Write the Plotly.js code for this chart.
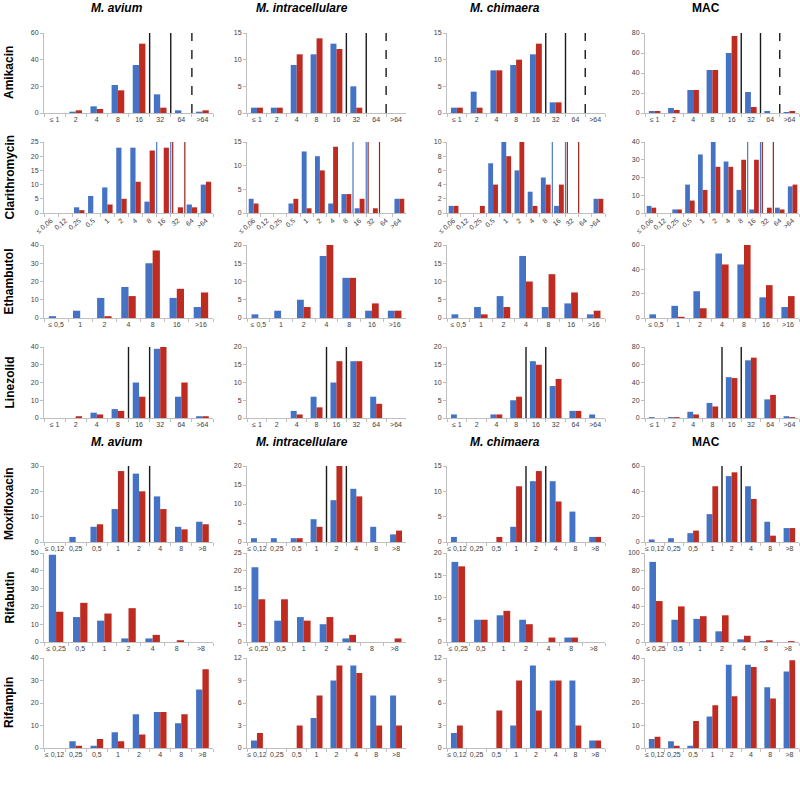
<!DOCTYPE html>
<html><head><meta charset="utf-8">
<script src="https://cdn.plot.ly/plotly-3.0.1.min.js"></script>
<style>html,body{margin:0;padding:0;background:#fff}#chart{width:800px;height:800px}</style>
</head><body><div id="chart"></div>
<script>
// ---------- DATA ----------
const species = ["M. avium", "M. intracellulare", "M. chimaera", "MAC"];
const drugs = ["Amikacin", "Clarithromycin", "Ethambutol", "Linezolid", "Moxifloxacin", "Rifabutin", "Rifampin"];

const amikacinCats = ["≤ 1", "2", "4", "8", "16", "32", "64", ">64"];
const clarithromycinCats = ["≤ 0,06", "0,12", "0,25", "0,5", "1", "2", "4", "8", "16", "32", "64", ">64"];
const ethambutolCats = ["≤ 0,5", "1", "2", "4", "8", "16", ">16"];
const linezolidCats = ["≤ 1", "2", "4", "8", "16", "32", "64", ">64"];
const moxifloxacinCats = ["≤ 0,12", "0,25", "0,5", "1", "2", "4", "8", ">8"];
const rifabutinCats = ["≤ 0,25", "0,5", "1", "2", "4", "8", ">8"];
const rifampinCats = ["≤ 0,12", "0,25", "0,5", "1", "2", "4", "8", ">8"];

// blue series / red series, one array per species (avium, intracellulare, chimaera, MAC)
const amikacinBlue = [[0,1,5,21,36,14,2,1],[1,1,9,11,13,5,0,0],[1,4,8,9,11,2,0,0],[2,5,23,43,60,21,2,1]];
const amikacinRed  = [[0,2,3,17,52,4,0,2],[1,1,11,14,12,1,0,0],[1,1,8,10,13,2,0,0],[2,3,23,43,77,6,0,2]];

const clarithromycinBlue = [[0,0,2,6,9,23,23,4,0,0,3,10],[3,0,0,2,13,12,2,4,1,0,0,3],[1,0,0,7,10,6,3,5,1,0,0,2],[4,0,2,16,33,40,29,13,2,0,3,15]];
const clarithromycinRed  = [[0,0,1,0,3,5,11,22,23,2,2,11],[2,0,0,3,1,9,14,4,3,1,0,3],[1,0,1,4,8,10,1,4,4,0,0,2],[3,0,2,7,13,26,26,30,30,3,2,16]];

const ethambutolBlue = [[1,4,11,17,30,11,6],[1,2,5,17,11,2,2],[1,3,6,17,3,4,1],[3,10,22,53,44,17,9]];
const ethambutolRed  = [[0,0,1,12,37,16,14],[0,0,3,20,11,4,2],[0,1,3,10,12,7,2],[0,1,8,44,60,27,18]];

const linezolidBlue = [[0,0,3,5,20,39,12,1],[0,0,2,6,10,16,6,0],[1,0,1,5,16,9,2,1],[1,1,7,17,46,65,21,2]];
const linezolidRed  = [[0,1,2,4,12,40,20,1],[0,0,1,3,16,16,4,0],[0,0,1,6,15,11,2,0],[0,1,4,13,45,68,26,1]];

const moxifloxacinBlue = [[0,2,6,13,27,18,6,8],[1,1,1,6,11,14,4,2],[1,0,0,3,12,12,6,1],[2,3,7,22,52,44,16,11]];
const moxifloxacinRed  = [[0,0,7,28,20,13,5,7],[0,0,1,4,20,12,0,3],[0,0,1,11,14,8,0,1],[0,0,9,44,55,34,5,11]];

const rifabutinBlue = [[49,14,12,2,2,0,0],[21,6,7,5,1,0,0],[18,5,6,5,0,1,0],[90,25,26,12,3,1,0]];
const rifabutinRed  = [[17,22,16,19,4,1,0],[12,12,6,7,2,0,1],[17,5,7,4,1,1,0],[46,40,29,30,7,2,1]];

const rifampinBlue = [[0,3,1,7,15,16,11,26],[1,0,0,4,9,11,7,7],[2,0,0,3,11,9,9,1],[4,3,1,14,37,37,27,34]];
const rifampinRed  = [[0,1,4,3,6,16,15,35],[2,0,3,7,11,10,3,3],[3,0,5,9,5,9,3,1],[5,1,12,19,23,36,22,39]];

// y-axis maxima and tick steps per species
const amikacinYMax = [60,15,15,80],        amikacinDtick = [20,5,5,20];
const clarithromycinYMax = [25,15,10,40],  clarithromycinDtick = [5,5,2,10];
const ethambutolYMax = [40,20,20,60],      ethambutolDtick = [10,5,5,20];
const linezolidYMax = [40,20,20,80],       linezolidDtick = [10,5,5,20];
const moxifloxacinYMax = [30,20,15,60],    moxifloxacinDtick = [10,5,5,20];
const rifabutinYMax = [50,25,20,100],      rifabutinDtick = [10,5,5,20];
const rifampinYMax = [40,12,12,40],        rifampinDtick = [10,3,3,10];

// breakpoint positions (category index boundaries)
const amikacinBreakpoints = [{x:4.5, kind:"black"}, {x:5.5, kind:"black"}, {x:6.5, kind:"dash"}];
const clarithromycinBreakpoints = [{x:7.5, kind:"blue"}, {x:8.5, kind:"blue"}, {x:8.64, kind:"red"}, {x:9.5, kind:"red"}];
const linezolidBreakpoints = [{x:3.5, kind:"black"}, {x:4.5, kind:"black"}];
const moxifloxacinBreakpoints = [{x:3.5, kind:"black"}, {x:4.5, kind:"black"}];

// ---------- STYLE / GEOMETRY ----------
const BLUE = "#4472C4", RED = "#BE2B21", AX = "#BFBFBF";
const lineStyles = {
  black: {color:"#1a1a1a", width:1.4, dash:"solid"},
  dash:  {color:"#1a1a1a", width:1.4, dash:"dash"},
  blue:  {color:"#4A78C8", width:1.2, dash:"solid"},
  red:   {color:"#9E2018", width:1.2, dash:"solid"}
};
const colPx = [[44,213],[247,406],[447,605],[645,799]];
const rowPx = [[33,113],[142,213],[245,318],[347,418],[466,542],[553,642],[658,748]];
const headerY = [8, 442];
const headerX = [117, 302, 505, 706];

const rows = [
  {cats:amikacinCats, blue:amikacinBlue, red:amikacinRed, ymax:amikacinYMax, dtick:amikacinDtick, lines:amikacinBreakpoints, w:0.3, angle:0},
  {cats:clarithromycinCats, blue:clarithromycinBlue, red:clarithromycinRed, ymax:clarithromycinYMax, dtick:clarithromycinDtick, lines:clarithromycinBreakpoints, w:0.37, angle:-40},
  {cats:ethambutolCats, blue:ethambutolBlue, red:ethambutolRed, ymax:ethambutolYMax, dtick:ethambutolDtick, lines:[], w:0.3, angle:0},
  {cats:linezolidCats, blue:linezolidBlue, red:linezolidRed, ymax:linezolidYMax, dtick:linezolidDtick, lines:linezolidBreakpoints, w:0.3, angle:0},
  {cats:moxifloxacinCats, blue:moxifloxacinBlue, red:moxifloxacinRed, ymax:moxifloxacinYMax, dtick:moxifloxacinDtick, lines:moxifloxacinBreakpoints, w:0.3, angle:0},
  {cats:rifabutinCats, blue:rifabutinBlue, red:rifabutinRed, ymax:rifabutinYMax, dtick:rifabutinDtick, lines:[], w:0.3, angle:0},
  {cats:rifampinCats, blue:rifampinBlue, red:rifampinRed, ymax:rifampinYMax, dtick:rifampinDtick, lines:[], w:0.3, angle:0}
];

const tickFont = {family:"'Liberation Sans Narrow', 'Arial Narrow', 'Liberation Sans', Arial, sans-serif", size:7, color:"#404040"};
const traces = [];
const layout = {
  width:800, height:800, margin:{l:0,r:0,t:0,b:0},
  paper_bgcolor:"#ffffff", plot_bgcolor:"rgba(0,0,0,0)",
  showlegend:false, barmode:"overlay", shapes:[], annotations:[]
};

let k = 0;
rows.forEach((row, ri) => {
  species.forEach((sp, ci) => {
    k++;
    const sfx = k === 1 ? "" : String(k);
    const xr = "x" + sfx, yr = "y" + sfx;
    const n = row.cats.length;
    traces.push({type:"bar", name:sp+" A", x:row.cats, y:row.blue[ci], xaxis:xr, yaxis:yr,
      offset:-row.w, width:row.w, marker:{color:BLUE, line:{width:0}}});
    traces.push({type:"bar", name:sp+" B", x:row.cats, y:row.red[ci], xaxis:xr, yaxis:yr,
      offset:0, width:row.w, marker:{color:RED, line:{width:0}}});
    layout["xaxis"+sfx] = {
      domain:[colPx[ci][0]/800, colPx[ci][1]/800], anchor:yr, type:"category",
      categoryorder:"array", categoryarray:row.cats, range:[-0.5, n-0.5],
      tickmode:"linear", tick0:0, dtick:1, tickson:"boundaries",
      showline:true, linecolor:AX, linewidth:1, ticks:"outside", ticklen:3, tickcolor:AX,
      tickfont:tickFont, tickangle:row.angle, showgrid:false, zeroline:false, fixedrange:true
    };
    layout["yaxis"+sfx] = {
      domain:[1-rowPx[ri][1]/800, 1-rowPx[ri][0]/800], anchor:xr,
      range:[0, row.ymax[ci]], tick0:0, dtick:row.dtick[ci],
      showline:true, linecolor:AX, linewidth:1, ticks:"outside", ticklen:3, tickcolor:AX,
      tickfont:tickFont, showgrid:false, zeroline:false, fixedrange:true
    };
    row.lines.forEach(l => {
      const st = lineStyles[l.kind];
      layout.shapes.push({type:"line", xref:xr, yref:yr+" domain", x0:l.x, x1:l.x, y0:0, y1:1,
        line:{color:st.color, width:st.width, dash:st.dash}});
    });
  });
  layout.annotations.push({
    text:"<b>"+drugs[ri]+"</b>", textangle:-90, xref:"paper", yref:"paper",
    x:9/800, y:1-((rowPx[ri][0]+rowPx[ri][1])/2)/800, xanchor:"center", yanchor:"middle",
    showarrow:false, font:{family:"'Liberation Sans', Arial, sans-serif", size:12, color:"#000"}
  });
});

headerY.forEach(hy => {
  species.forEach((sp, ci) => {
    const t = sp === "MAC" ? "<b>MAC</b>" : "<b><i>"+sp+"</i></b>";
    layout.annotations.push({
      text:t, xref:"paper", yref:"paper", x:headerX[ci]/800, y:1-hy/800,
      xanchor:"center", yanchor:"middle", showarrow:false,
      font:{family:"'Liberation Sans Narrow', 'Arial Narrow', 'Liberation Sans', Arial, sans-serif", size:12, color:"#000"}
    });
  });
});

Plotly.newPlot("chart", traces, layout, {staticPlot:true, displayModeBar:false});
</script>
</body></html>
